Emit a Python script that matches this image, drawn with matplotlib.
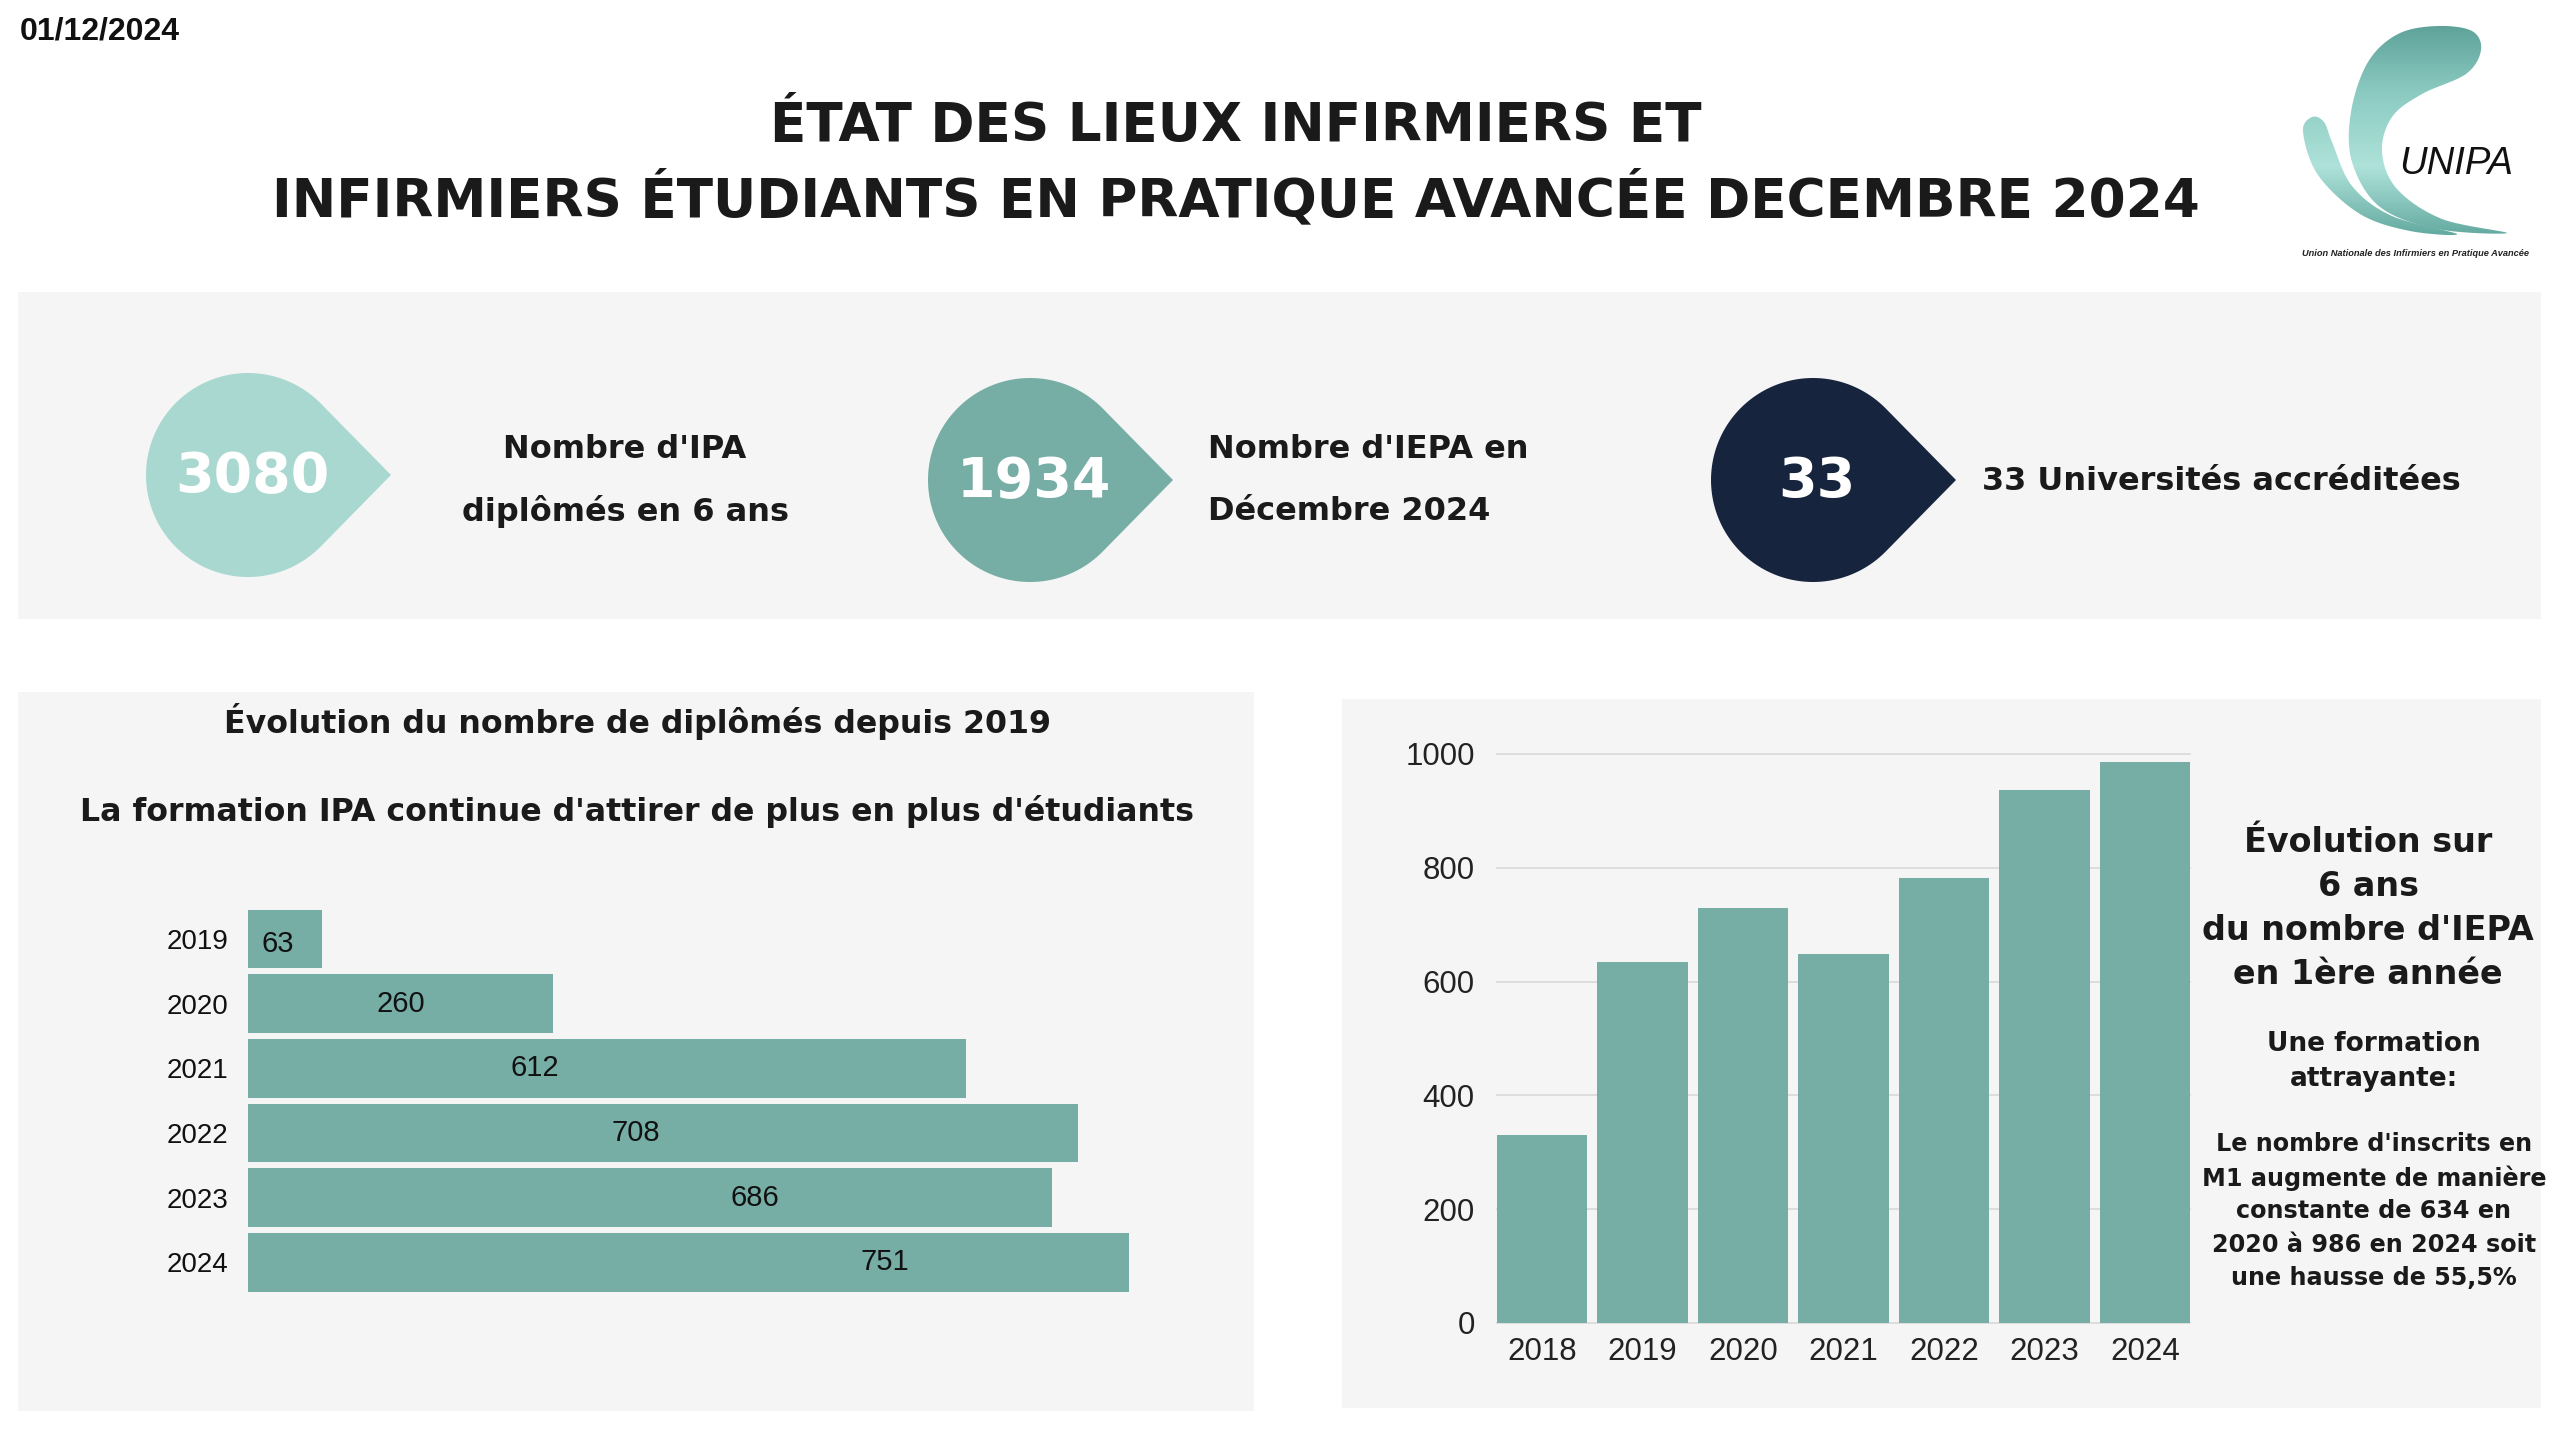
import numpy as np
import matplotlib
matplotlib.use("Agg")
import matplotlib.pyplot as plt
from matplotlib.path import Path
from matplotlib.patches import PathPatch, Rectangle, Polygon
from matplotlib.colors import LinearSegmentedColormap

# ---------------- data ----------------
date_label = "01/12/2024"
title_lines = ["ÉTAT DES LIEUX INFIRMIERS ET",
               "INFIRMIERS ÉTUDIANTS EN PRATIQUE AVANCÉE DECEMBRE 2024"]

kpi_values = ["3080", "1934", "33"]
kpi_labels = [["Nombre d'IPA", "diplômés en 6 ans"],
              ["Nombre d'IEPA en", "Décembre 2024"],
              ["33 Universités accréditées"]]

grad_years = ["2019", "2020", "2021", "2022", "2023", "2024"]
grad_values = [63, 260, 612, 708, 686, 751]
grad_label_pos = [25, 130, 245, 331, 432, 543]   # label anchor (x, data units)

iepa_years = ["2018", "2019", "2020", "2021", "2022", "2023", "2024"]
iepa_values = [331, 634, 730, 649, 782, 937, 986]
iepa_ticks = [0, 200, 400, 600, 800, 1000]

left_title = "Évolution du nombre de diplômés depuis 2019"
left_subtitle = "La formation IPA continue d'attirer de plus en plus d'étudiants"
right_title = ["Évolution sur", "6 ans", "du nombre d'IEPA", "en 1ère année"]
right_sub = ["Une formation", "attrayante:"]
right_body = ["Le nombre d'inscrits en", "M1 augmente de manière",
              "constante de 634 en", "2020 à 986 en 2024 soit",
              "une hausse de 55,5%"]

# ---------------- style ----------------
TEAL = "#76aea6"
LIGHT = "#a9d8d0"
NAVY = "#17243d"
PANEL = "#f5f5f5"
TXT = "#1a1a1a"
FONT = ["DejaVu Sans"]
ARIAL = ["Liberation Sans", "DejaVu Sans"]

W, H = 2560, 1440
fig = plt.figure(figsize=(25.6, 14.4), dpi=100, facecolor="white")
ov = fig.add_axes([0, 0, 1, 1], zorder=0)
ov.set_xlim(0, W)
ov.set_ylim(H, 0)
ov.axis("off")

# background panels
ov.add_patch(Rectangle((18, 292), 2523, 327, color=PANEL, lw=0))
ov.add_patch(Rectangle((18, 692), 1236, 719, color=PANEL, lw=0))
ov.add_patch(Rectangle((1342, 699), 1199, 709, color=PANEL, lw=0))

# date + title
ov.text(20, 31, date_label, fontsize=23, fontweight="bold", family=ARIAL,
        color="#111", ha="left", va="center")
ov.text(1236, 126, title_lines[0], fontsize=38.3, fontweight="bold", family=FONT,
        color=TXT, ha="center", va="center")
ov.text(1236, 199, title_lines[1], fontsize=38.3, fontweight="bold", family=FONT,
        color=TXT, ha="center", va="center")

# KPI drops
def drop(cx, cy, r, d, color):
    th = np.arccos(r / d)
    ang = np.linspace(th, 2 * np.pi - th, 120)
    pts = np.column_stack([cx + r * np.cos(ang), cy + r * np.sin(ang)])
    pts = np.vstack([[cx + d, cy], pts])
    ov.add_patch(Polygon(pts, closed=True, color=color, lw=0))

drop_centers = [(248, 475), (1030, 480), (1813, 480)]
drop_colors = [LIGHT, TEAL, NAVY]
for (cx, cy), col, val in zip(drop_centers, drop_colors, kpi_values):
    drop(cx, cy, 102, 143, col)
    ov.text(cx + 4, cy + 2, val, fontsize=40, fontweight="bold", family=FONT,
            color="white", ha="center", va="center")

LBL = 23
ov.text(625, 450, kpi_labels[0][0], fontsize=LBL, fontweight="bold", family=FONT,
        color=TXT, ha="center", va="center")
ov.text(625, 512, kpi_labels[0][1], fontsize=LBL, fontweight="bold", family=FONT,
        color=TXT, ha="center", va="center")
ov.text(1208, 450, kpi_labels[1][0], fontsize=LBL, fontweight="bold", family=FONT,
        color=TXT, ha="left", va="center")
ov.text(1208, 512, kpi_labels[1][1], fontsize=LBL, fontweight="bold", family=FONT,
        color=TXT, ha="left", va="center")
ov.text(1982, 481, kpi_labels[2][0], fontsize=LBL, fontweight="bold", family=FONT,
        color=TXT, ha="left", va="center")

# left panel titles
ov.text(637, 721, left_title, fontsize=22.8, fontweight="bold", family=FONT,
        color=TXT, ha="center", va="center")
ov.text(637, 811, left_subtitle, fontsize=22.8, fontweight="bold", family=FONT,
        color=TXT, ha="center", va="center")

# right panel text
for y, s in zip([842, 886, 930, 975], right_title):
    ov.text(2368, y, s, fontsize=24, fontweight="bold", family=FONT,
            color=TXT, ha="center", va="center")
for y, s in zip([1044, 1079], right_sub):
    ov.text(2374, y, s, fontsize=19, fontweight="bold", family=FONT,
            color=TXT, ha="center", va="center")
for y, s in zip([1144, 1178, 1211, 1245, 1278], right_body):
    ov.text(2374, y, s, fontsize=17.2, fontweight="bold", family=FONT,
            color=TXT, ha="center", va="center")

# ---------------- logo ----------------
def smooth_closed(pts, n=20):
    pts = np.asarray(pts, float)
    out = []
    N = len(pts)
    for i in range(N):
        p0, p1, p2, p3 = pts[i - 1], pts[i], pts[(i + 1) % N], pts[(i + 2) % N]
        t = np.linspace(0, 1, n, endpoint=False)[:, None]
        seg = 0.5 * ((2 * p1) + (-p0 + p2) * t + (2 * p0 - 5 * p1 + 4 * p2 - p3) * t ** 2
                     + (-p0 + 3 * p1 - 3 * p2 + p3) * t ** 3)
        out.append(seg)
    return np.vstack(out)

big = [(2507, 233), (2437, 229), (2380, 207), (2352, 162), (2351, 112),
       (2368, 62), (2398, 34), (2437, 26), (2472, 31), (2481, 50),
       (2466, 74), (2422, 94), (2392, 117), (2382, 152), (2397, 189),
       (2442, 219)]
small = [(2457, 234), (2410, 231), (2360, 214), (2318, 175), (2303, 132),
         (2312, 117), (2324, 122), (2332, 142), (2352, 186), (2392, 216)]
cmap = LinearSegmentedColormap.from_list("logo", ["#5a9f96", "#8ccbc2", "#aee2da", "#5fa69c"])
grad = np.linspace(0, 1, 256).reshape(-1, 1)
for shape in (small, big):
    sp = smooth_closed(shape)
    patch = PathPatch(Path(sp, closed=False), facecolor="none", edgecolor="none")
    ov.add_patch(patch)
    im = ov.imshow(np.tile(grad, (1, 4)), cmap=cmap, extent=(2290, 2520, 240, 20),
                   aspect="auto", zorder=1, interpolation="bilinear")
    im.set_clip_path(patch)
ov.set_xlim(0, W)
ov.set_ylim(H, 0)
ov.text(2456, 164, "UNIPA", fontsize=27.5, style="italic", family=ARIAL,
        color="#111", ha="center", va="center", zorder=3)
ov.text(2416, 253, "Union Nationale des Infirmiers en Pratique Avancée",
        fontsize=6.7, style="italic", fontweight="bold", family=ARIAL,
        color="#222", ha="center", va="center", zorder=3)

# ---------------- left horizontal bar chart ----------------
axl = fig.add_axes([248 / W, 1 - 1294.6 / H, 938 / W, 388 / H], zorder=2)
axl.set_facecolor("none")
yl = np.arange(len(grad_years))
axl.barh(yl, grad_values, height=0.91, color=TEAL, lw=0)
axl.set_xlim(0, 800)
axl.set_ylim(len(grad_years) - 0.5, -0.5)
axl.set_yticks(yl)
axl.set_yticklabels(grad_years, family=ARIAL, fontsize=20, color="#111")
axl.tick_params(axis="y", length=0, pad=14)
axl.set_xticks([])
for s in axl.spines.values():
    s.set_visible(False)
for i, (v, px) in enumerate(zip(grad_values, grad_label_pos)):
    axl.text(px, i + (0.08 if i == 0 else 0), str(v), family=ARIAL, fontsize=21,
             color="#111", ha="center", va="center")

# ---------------- right vertical bar chart ----------------
axr = fig.add_axes([1497 / W, 1 - 1323 / H, 693 / W, 569 / H], zorder=2)
axr.set_facecolor("none")
xr = np.arange(len(iepa_years))
axr.bar(xr, iepa_values, width=0.9, color=TEAL, lw=0, zorder=3)
axr.set_xlim(-0.45, len(iepa_years) - 0.55)
axr.set_ylim(0, 1000)
axr.set_yticks(iepa_ticks)
axr.set_yticklabels([str(t) for t in iepa_ticks], family=ARIAL, fontsize=22.5, color="#222")
axr.set_xticks(xr)
axr.set_xticklabels(iepa_years, family=ARIAL, fontsize=22.5, color="#222")
axr.tick_params(axis="y", length=0, pad=16)
axr.tick_params(axis="x", length=0, pad=10)
axr.yaxis.grid(True, color="#d9d9d9", lw=1.2, zorder=0)
axr.set_axisbelow(True)
for gl in axr.yaxis.get_gridlines():
    gl.set_clip_on(False)
for s in axr.spines.values():
    s.set_visible(False)

fig.savefig("out.png", dpi=100, facecolor="white")
